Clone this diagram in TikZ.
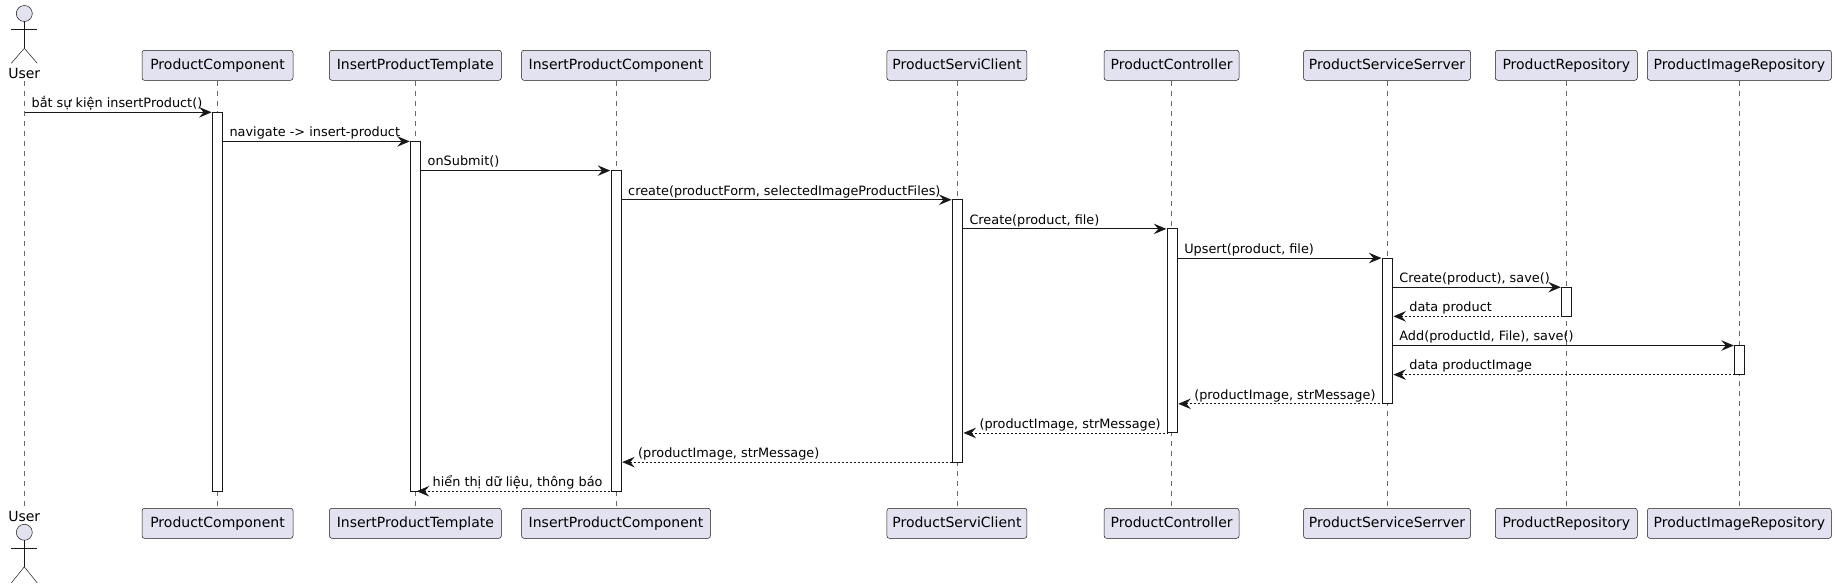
\documentclass[tikz,border=0pt]{standalone}
\usepackage{fontspec}
\setmainfont{DejaVu Sans}
\usetikzlibrary{arrows.meta}
\definecolor{ink}{HTML}{181818}
\definecolor{pfill}{HTML}{E2E2F0}
\tikzset{
  x=1pt,y=-1pt,
  pbox/.style={draw=ink,line width=0.5pt,fill=pfill,rounded corners=2.5pt,minimum height=30pt,inner sep=0pt,outer sep=0pt,
    font=\fontsize{14}{16}\selectfont,text height=10.5pt,text depth=3pt},
  lifeln/.style={draw=ink!65,line width=0.5pt,dash pattern=on 5pt off 5pt},
  barbox/.style={draw=ink,line width=1pt,fill=white,minimum width=10pt,inner sep=0pt,outer sep=0pt},
  msg/.style={draw=ink,line width=1pt,-{Stealth[length=12.5pt,width=10.5pt,inset=4.5pt]},shorten >=1pt},
  ret/.style={draw=ink,line width=0.8pt,dash pattern=on 2pt off 2pt,{Stealth[length=12.5pt,width=10.5pt,inset=4.5pt]}-,shorten <=1pt},
  lbl/.style={font=\fontsize{12.85}{15}\selectfont,anchor=base west,inner sep=0pt,outer sep=0pt,text=black},
  ulbl/.style={font=\fontsize{14}{16}\selectfont,inner sep=0pt,outer sep=0pt,text=black},
  actorhead/.style={circle,draw=ink,line width=0.5pt,fill=pfill,minimum size=16pt,inner sep=0pt,outer sep=0pt},
  actorline/.style={draw=ink,line width=0.5pt},
}
\newcommand{\actbar}[4]{\node[barbox,minimum height={#4-#3}] (#1) at (#2,{(#3+#4)/2}) {};}
\begin{document}
\begin{tikzpicture}
\useasboundingbox (0,0) rectangle (1836,588);
% top participants
\node[pbox,minimum width=151pt] (pc) at (217.5,65.3) {ProductComponent};
\node[pbox,minimum width=172pt] (ipt) at (415.4,65.3) {InsertProductTemplate};
\node[pbox,minimum width=189pt] (ipc) at (616,65.3) {InsertProductComponent};
\node[pbox,minimum width=140pt] (cl) at (956.9,65.3) {ProductServiClient};
\node[pbox,minimum width=135pt] (ct) at (1171.6,65.3) {ProductController};
\node[pbox,minimum width=167pt] (ss) at (1387,65.3) {ProductServiceSerrver};
\node[pbox,minimum width=142pt] (pr) at (1566.3,65.3) {ProductRepository};
\node[pbox,minimum width=184pt] (pi) at (1739.4,65.3) {ProductImageRepository};
% bottom participants
\node[pbox,minimum width=151pt] (pcb) at (217.5,523.3) {ProductComponent};
\node[pbox,minimum width=172pt] (iptb) at (415.4,523.3) {InsertProductTemplate};
\node[pbox,minimum width=189pt] (ipcb) at (616,523.3) {InsertProductComponent};
\node[pbox,minimum width=140pt] (clb) at (956.9,523.3) {ProductServiClient};
\node[pbox,minimum width=135pt] (ctb) at (1171.6,523.3) {ProductController};
\node[pbox,minimum width=167pt] (ssb) at (1387,523.3) {ProductServiceSerrver};
\node[pbox,minimum width=142pt] (prb) at (1566.3,523.3) {ProductRepository};
\node[pbox,minimum width=184pt] (pib) at (1739.4,523.3) {ProductImageRepository};
% actors
\node[actorhead] (uh) at (24.3,13.5) {};
\coordinate (uhip) at (24.3,48.3);
\draw[actorline] (uh.south) -- (uhip);
\draw[actorline] (11.3,29.3) -- (37.3,29.3);
\draw[actorline] (11.3,63.3) -- (uhip) -- (37.3,63.3);
\node[ulbl] (ut) at (24.3,73) {User};
\node[ulbl] (ub) at (24.3,516) {User};
\node[actorhead] (uhb) at (24.3,532.3) {};
\coordinate (uhipb) at (24.3,566.8);
\draw[actorline] (uhb.south) -- (uhipb);
\draw[actorline] (11.3,548) -- (37.3,548);
\draw[actorline] (11.3,583) -- (uhipb) -- (37.3,583);
% lifelines
\coordinate (us) at (24.5,81);
\coordinate (ue) at (24.5,507);
\draw[lifeln] (us) -- (ue);
\foreach \a/\b in {pc/pcb,ipt/iptb,ipc/ipcb,cl/clb,ct/ctb,ss/ssb,pr/prb,pi/pib}
  \draw[lifeln,shorten <=0.8pt,shorten >=1.5pt] (\a) ++(0,15) -- (\b.north);
% activation bars
\actbar{apc}{217.6}{112.3}{491.25}
\actbar{aipt}{415.7}{141.45}{491.25}
\actbar{aipc}{616.2}{170.6}{491.25}
\actbar{acl}{957.5}{199.75}{462.1}
\actbar{act}{1172.3}{228.9}{432.95}
\actbar{ass}{1387.4}{258.05}{403.8}
\actbar{apr}{1566.8}{287.2}{316.35}
\actbar{api}{1739.8}{345.5}{374.65}
% messages
\coordinate (m0) at (24.5,112.3);
\draw[msg] (m0) -- (apc.north west);
\node[lbl] (t0) at (31.6,107.6) {bắt sự kiện insertProduct()};
\draw[msg] (apc.east |- aipt.north) -- (aipt.north west);
\node[lbl] (t1) at ([shift={(7,-4.7)}]apc.east |- aipt.north) {navigate -> insert-product};
\draw[msg] (aipt.east |- aipc.north) -- (aipc.north west);
\node[lbl] (t2) at ([shift={(7,-4.7)}]aipt.east |- aipc.north) {onSubmit()};
\draw[msg] (aipc.east |- acl.north) -- (acl.north west);
\node[lbl] (t3) at ([shift={(7,-4.7)}]aipc.east |- acl.north) {create(productForm, selectedImageProductFiles)};
\draw[msg] (acl.east |- act.north) -- (act.north west);
\node[lbl] (t4) at ([shift={(7,-4.7)}]acl.east |- act.north) {Create(product, file)};
\draw[msg] (act.east |- ass.north) -- (ass.north west);
\node[lbl] (t5) at ([shift={(7,-4.7)}]act.east |- ass.north) {Upsert(product, file)};
\draw[msg] (ass.east |- apr.north) -- (apr.north west);
\node[lbl] (t6) at ([shift={(7,-4.7)}]ass.east |- apr.north) {Create(product), save()};
\draw[ret] (ass.east |- apr.south) -- (apr.south west);
\node[lbl] (t7) at ([shift={(17,-4.7)}]ass.east |- apr.south) {data product};
\draw[msg] (ass.east |- api.north) -- (api.north west);
\node[lbl] (t8) at ([shift={(7,-4.7)}]ass.east |- api.north) {Add(productId, File), save()};
\draw[ret] (ass.east |- api.south) -- (api.south west);
\node[lbl] (t9) at ([shift={(17,-4.7)}]ass.east |- api.south) {data productImage};
\draw[ret] (act.east |- ass.south) -- (ass.south west);
\node[lbl] (t10) at ([shift={(17,-4.7)}]act.east |- ass.south) {(productImage, strMessage)};
\draw[ret] (acl.east |- act.south) -- (act.south west);
\node[lbl] (t11) at ([shift={(17,-4.7)}]acl.east |- act.south) {(productImage, strMessage)};
\draw[ret] (aipc.east |- acl.south) -- (acl.south west);
\node[lbl] (t12) at ([shift={(17,-4.7)}]aipc.east |- acl.south) {(productImage, strMessage)};
\draw[ret] (aipt.center |- aipc.south) -- (aipc.south west);
\node[lbl] (t13) at ([shift={(17,-4.7)}]aipt.center |- aipc.south) {hiển thị dữ liệu, thông báo};
\end{tikzpicture}
\end{document}
